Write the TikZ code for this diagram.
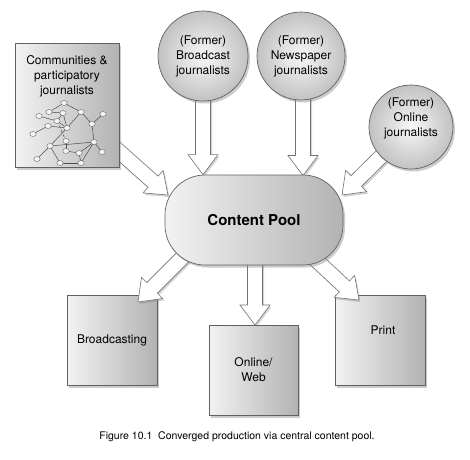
\documentclass[tikz,border=0pt]{standalone}
\usepackage{fontspec}
\setmainfont{TeX Gyre Heros}
\usetikzlibrary{shadows,calc,shapes.geometric}
\pgfdeclarelayer{boxes}
\pgfdeclarelayer{arrows}
\pgfsetlayers{boxes,arrows,main}
\tikzset{
  shapeline/.style={draw=black!62, line width=0.7pt},
  myshadow/.style={drop shadow={shadow xshift=2pt,shadow yshift=-2.5pt,opacity=0.4}},
  boxshade/.style={shapeline, left color=black!5, right color=black!30, myshadow},
  sqbox/.style={boxshade, minimum width=90pt, minimum height=90pt, inner sep=0pt, align=center, font=\fontsize{12}{15}\selectfont},
  ball/.style={circle, shapeline, inner color=black!3, outer color=black!24, myshadow, inner sep=0pt, align=center, font=\fontsize{12}{15}\selectfont},
  txt/.style={inner sep=0pt, align=center, font=\fontsize{12}{15}\selectfont},
  blockarr/.style={draw=black!55, line width=0.6pt, fill=white, drop shadow={shadow xshift=1.5pt,shadow yshift=-2pt,opacity=0.35}},
  netnode/.style={ellipse, draw=black!60, fill=black!4, line width=0.4pt, minimum width=6.5pt, minimum height=5pt, inner sep=0pt},
  netedge/.style={draw=black!70, line width=0.5pt}
}
\newcommand{\blockarrow}[2]{%
  \coordinate (ah) at ($(#2)!20pt!(#1)$);
  \draw[blockarr] ($(#1)!7.5pt!90:(#2)$) -- ($(ah)!7.5pt!-90:(#1)$) -- ($(ah)!15pt!-90:(#1)$) -- (#2) -- ($(ah)!15pt!90:(#1)$) -- ($(ah)!7.5pt!90:(#1)$) -- ($(#1)!7.5pt!-90:(#2)$) -- cycle;}
\begin{document}
\begin{tikzpicture}[x=1pt,y=-1pt]
\useasboundingbox (0,0) rectangle (470,459);
% bottom boxes
\begin{pgfonlayer}{boxes}
\node[sqbox] (bcast) at (112,340) {Broadcasting};
\node[sqbox, minimum width=89pt] (web) at (253.5,370) {Online/\\Web};
\node[sqbox] (print) at (380,340) {\hspace*{6pt}Print\\[4pt]};
\end{pgfonlayer}
% main shapes
\node[boxshade, minimum width=104pt, minimum height=124pt, inner sep=0pt] (comm) at (67,105) {};
\node[txt] (commtext) at (67,76) {Communities \&\\participatory\\journalists};
\node[ball, minimum size=90pt] (bc) at (203,56) {(Former)\\Broadcast\\journalists};
\node[ball, minimum size=88pt] (np) at (301,56) {(Former)\\Newspaper\\journalists};
\node[ball, minimum size=84pt] (on) at (411,127) {};
\node[txt] (ontext) at (411,118) {(Former)\\Online\\journalists};
\node[boxshade, rounded corners=40pt, minimum width=178pt, minimum height=90pt, inner sep=0pt,
      font=\fontsize{15}{18}\selectfont\bfseries] (pool) at (254,220) {Content Pool};
% network inside communities box
\foreach \n/\x/\y in {g1/64/103, g2/39/116, g3/49/112, g4/63/113, g5/81/112, g6/103/114, g7/57/121,
  g8/48/126, g9/67/128, g10/33/134, g11/92/124, g12/50/146, g13/66/141, g14/94/142, g15/37/159,
  g16/66/151, g17/60/163, g18/81/163, g19/79/153, g20/102/152}
  \coordinate (c\n) at (\x,\y);
\foreach \a/\b in {g1/g3, g1/g5, g3/g4, g4/g9, g2/g7, g7/g9, g8/g9, g8/g10, g4/g7, g5/g11, g5/g9,
  g6/g11, g11/g14, g9/g12, g13/g16, g12/g15, g12/g17, g12/g14, g17/g18, g18/g14, g16/g19, g19/g14,
  g14/g20, g18/g19}
  \draw[netedge] (c\a) -- (c\b);
\draw[netedge, densely dashed] (cg7) -- (cg13);
\foreach \n in {g1,g2,g3,g4,g5,g6,g7,g8,g9,g10,g11,g12,g13,g14,g15,g16,g17,g18,g19,g20}
  \node[netnode] (\n) at (c\n) {};
% caption
\node[inner sep=0pt, font=\fontsize{10.5}{12}\selectfont] (cap) at (237,437) {Figure 10.1\ \ Converged production via central content pool.};
% arrows
\coordinate (tcomm) at (168,195);
\coordinate (tbc) at (bc |- pool.north);
\coordinate (tnp) at (303,175.5);
\coordinate (ton) at (342,195);
\coordinate (sbcast) at ($(pool.center)+(-45,11)$);
\coordinate (tbcast) at (138,302);
\coordinate (sweb) at (255,220);
\coordinate (tweb) at (255,325);
\coordinate (sprint) at ($(pool.center)+(32,12)$);
\coordinate (tprint) at (359,300);
\coordinate (snp) at (303,56);
\begin{pgfonlayer}{arrows}
\blockarrow{comm}{tcomm}
\blockarrow{bc}{tbc}
\blockarrow{snp}{tnp}
\blockarrow{on}{ton}
\blockarrow{sbcast}{tbcast}
\blockarrow{sweb}{tweb}
\blockarrow{sprint}{tprint}
\end{pgfonlayer}
\end{tikzpicture}
\end{document}
